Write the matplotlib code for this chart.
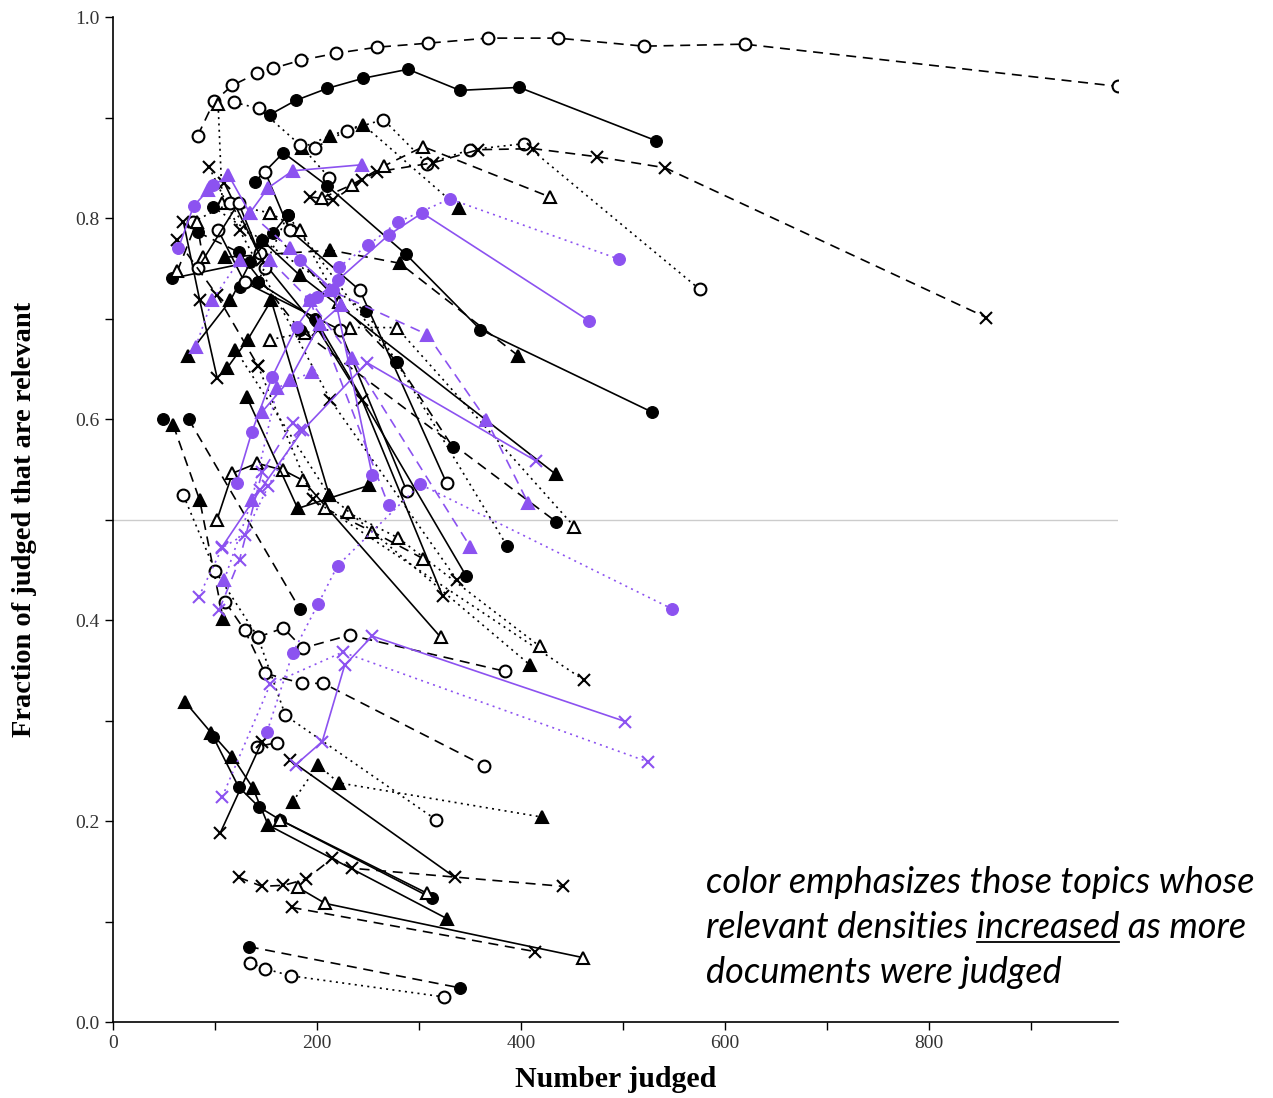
import matplotlib
matplotlib.use('Agg')
import matplotlib.pyplot as plt
from matplotlib.ticker import MultipleLocator

# ---- data: (number judged, fraction relevant) per topic ----
# black topics
b01_x = [83, 99, 117, 141, 157, 184, 219, 259, 309, 367, 436, 520, 619, 985]
b01_y = [0.882, 0.916, 0.932, 0.944, 0.949, 0.957, 0.964, 0.970, 0.974, 0.979, 0.979, 0.971, 0.973, 0.931]
b02_x = [154, 179, 210, 245, 289, 340, 398, 532]
b02_y = [0.903, 0.917, 0.929, 0.939, 0.948, 0.927, 0.930, 0.877]
b03_x = [185, 213, 245, 339]
b03_y = [0.870, 0.882, 0.893, 0.810]
b04_x = [198, 229, 265, 308, 350, 403, 575]
b04_y = [0.870, 0.887, 0.898, 0.854, 0.868, 0.874, 0.729]
b05_x = [193, 216, 244, 259, 314, 358, 412, 474, 541, 856]
b05_y = [0.821, 0.818, 0.838, 0.846, 0.855, 0.868, 0.869, 0.861, 0.850, 0.701]
b06_x = [205, 234, 266, 304, 428]
b06_y = [0.820, 0.833, 0.852, 0.871, 0.821]
b07_x = [119, 143, 183, 212]
b07_y = [0.915, 0.909, 0.873, 0.840]
b08_x = [103, 107, 154]
b08_y = [0.913, 0.815, 0.805]
b09_x = [139, 167, 210, 287, 360, 528]
b09_y = [0.836, 0.865, 0.832, 0.764, 0.689, 0.607]
b10_x = [110, 213, 281, 397]
b10_y = [0.761, 0.768, 0.755, 0.663]
b11_x = [73, 115, 146, 183, 434]
b11_y = [0.663, 0.718, 0.778, 0.743, 0.545]
b12_x = [154, 188, 232, 278, 452]
b12_y = [0.679, 0.686, 0.691, 0.691, 0.493]
b13_x = [83, 123, 183, 434]
b13_y = [0.786, 0.766, 0.689, 0.498]
b14_x = [98, 146, 248, 386]
b14_y = [0.811, 0.778, 0.707, 0.474]
b15_x = [157, 278, 333]
b15_y = [0.785, 0.657, 0.572]
b16_x = [124, 142, 198, 346]
b16_y = [0.731, 0.736, 0.700, 0.444]
b17_x = [102, 117, 141, 167, 186, 321]
b17_y = [0.500, 0.546, 0.556, 0.549, 0.539, 0.383]
b18_x = [109, 146, 201, 244, 323]
b18_y = [0.835, 0.758, 0.689, 0.619, 0.424]
b19_x = [94, 124, 213, 337]
b19_y = [0.851, 0.788, 0.619, 0.440]
b20_x = [149, 173, 242, 327]
b20_y = [0.846, 0.788, 0.728, 0.536]
b21_x = [103, 129, 222, 288]
b21_y = [0.788, 0.736, 0.689, 0.528]
b22_x = [230, 279, 418]
b22_y = [0.507, 0.482, 0.374]
b23_x = [208, 254, 304]
b23_y = [0.511, 0.488, 0.461]
b24_x = [120, 212, 409]
b24_y = [0.669, 0.524, 0.355]
b25_x = [142, 196, 462]
b25_y = [0.653, 0.520, 0.340]
b26_x = [142, 167, 186, 232, 384]
b26_y = [0.383, 0.392, 0.372, 0.385, 0.349]
b27_x = [131, 181, 251]
b27_y = [0.622, 0.511, 0.534]
b28_x = [74, 183]
b28_y = [0.600, 0.411]
b29_x = [59, 85, 108]
b29_y = [0.594, 0.519, 0.401]
b30_x = [69, 100, 142, 169, 317]
b30_y = [0.524, 0.449, 0.383, 0.305, 0.201]
b31_x = [49]
b31_y = [0.600]
b32_x = [110, 129, 149, 185, 206, 364]
b32_y = [0.418, 0.390, 0.347, 0.337, 0.337, 0.255]
b33_x = [141, 161]
b33_y = [0.274, 0.278]
b34_x = [176, 201, 221, 420]
b34_y = [0.219, 0.256, 0.238, 0.204]
b35_x = [71, 96, 117, 137, 152, 327]
b35_y = [0.318, 0.288, 0.264, 0.233, 0.196, 0.103]
b36_x = [98, 123, 143, 164, 313]
b36_y = [0.284, 0.234, 0.214, 0.201, 0.123]
b37_x = [105, 146]
b37_y = [0.188, 0.279]
b38_x = [173, 335]
b38_y = [0.261, 0.144]
b39_x = [123, 146, 167, 189, 215, 234, 441]
b39_y = [0.144, 0.135, 0.136, 0.142, 0.163, 0.153, 0.135]
b40_x = [181, 208, 461]
b40_y = [0.134, 0.118, 0.064]
b41_x = [175, 414]
b41_y = [0.114, 0.070]
b42_x = [164, 308]
b42_y = [0.201, 0.128]
b43_x = [133, 340]
b43_y = [0.075, 0.034]
b44_x = [134, 149, 174, 324]
b44_y = [0.059, 0.053, 0.046, 0.025]
b45_x = [69, 85, 102]
b45_y = [0.796, 0.718, 0.641]
b46_x = [78, 115, 144]
b46_y = [0.796, 0.815, 0.765]
b47_x = [58, 134, 171]
b47_y = [0.740, 0.756, 0.803]
b48_x = [63, 82, 88]
b48_y = [0.747, 0.796, 0.761]
b49_x = [83, 123, 149]
b49_y = [0.750, 0.815, 0.750]
b50_x = [63, 102, 142]
b50_y = [0.778, 0.723, 0.653]
b51_x = [112, 132, 155, 212]
b51_y = [0.651, 0.679, 0.718, 0.524]
b52_x = [142, 171, 277]
b52_y = [0.736, 0.803, 0.657]
b53_x = [154, 183, 221]
b53_y = [0.805, 0.788, 0.716]

# purple topics (relevant density increased)
p01_x = [93, 113, 134, 152, 176, 244]
p01_y = [0.828, 0.843, 0.805, 0.830, 0.847, 0.853]
p02_x = [151, 176, 201, 220, 301, 548]
p02_y = [0.289, 0.367, 0.416, 0.454, 0.535, 0.411]
p03_x = [121, 136, 156, 180, 200, 220, 270, 303, 466]
p03_y = [0.536, 0.587, 0.642, 0.692, 0.721, 0.738, 0.783, 0.805, 0.698]
p04_x = [221, 250, 279, 330, 496]
p04_y = [0.751, 0.773, 0.796, 0.819, 0.759]
p05_x = [179, 205, 227, 254, 502]
p05_y = [0.256, 0.279, 0.355, 0.384, 0.299]
p06_x = [107, 154, 225, 524]
p06_y = [0.224, 0.336, 0.368, 0.259]
p07_x = [107, 144, 186, 249, 415]
p07_y = [0.473, 0.529, 0.589, 0.656, 0.558]
p08_x = [134, 173, 213, 308, 366, 407]
p08_y = [0.805, 0.770, 0.728, 0.684, 0.599, 0.516]
p09_x = [154, 193, 234, 350]
p09_y = [0.758, 0.718, 0.661, 0.473]
p10_x = [81, 97, 124]
p10_y = [0.672, 0.718, 0.758]
p11_x = [84, 107, 129, 152, 183]
p11_y = [0.423, 0.472, 0.485, 0.533, 0.589]
p12_x = [104, 124, 146, 176]
p12_y = [0.410, 0.460, 0.547, 0.596]
p13_x = [183, 216, 254]
p13_y = [0.758, 0.728, 0.544]
p14_x = [193, 270]
p14_y = [0.718, 0.514]
p15_x = [109, 136, 161, 195]
p15_y = [0.440, 0.519, 0.631, 0.647]
p16_x = [146, 173, 203, 223]
p16_y = [0.607, 0.639, 0.695, 0.713]
p17_x = [64, 79, 98]
p17_y = [0.770, 0.812, 0.833]

BLACK = 'black'
PURPLE = '#8c52f0'

# marker kind: 'o' filled circle, 'oo' open circle, '^' filled triangle,
# '^o' open triangle, 'x' cross
series = [
    (b01_x, b01_y, 'oo', '--', BLACK), (b02_x, b02_y, 'o', '-', BLACK),
    (b03_x, b03_y, '^', ':', BLACK), (b04_x, b04_y, 'oo', ':', BLACK),
    (b05_x, b05_y, 'x', '--', BLACK), (b06_x, b06_y, '^o', '--', BLACK),
    (b07_x, b07_y, 'oo', ':', BLACK), (b08_x, b08_y, '^o', ':', BLACK),
    (b09_x, b09_y, 'o', '-', BLACK), (b10_x, b10_y, '^', '--', BLACK),
    (b11_x, b11_y, '^', '-', BLACK), (b12_x, b12_y, '^o', ':', BLACK),
    (b13_x, b13_y, 'o', '--', BLACK), (b14_x, b14_y, 'o', ':', BLACK),
    (b15_x, b15_y, 'o', '--', BLACK), (b16_x, b16_y, 'o', '-', BLACK),
    (b17_x, b17_y, '^o', '-', BLACK), (b18_x, b18_y, 'x', '-', BLACK),
    (b19_x, b19_y, 'x', ':', BLACK), (b20_x, b20_y, 'oo', '-', BLACK),
    (b21_x, b21_y, 'oo', '-', BLACK), (b22_x, b22_y, '^o', ':', BLACK),
    (b23_x, b23_y, '^o', '--', BLACK), (b24_x, b24_y, '^', ':', BLACK),
    (b25_x, b25_y, 'x', ':', BLACK), (b26_x, b26_y, 'oo', '--', BLACK),
    (b27_x, b27_y, '^', '-', BLACK), (b28_x, b28_y, 'o', '--', BLACK),
    (b29_x, b29_y, '^', '--', BLACK), (b30_x, b30_y, 'oo', ':', BLACK),
    (b31_x, b31_y, 'o', '-', BLACK), (b32_x, b32_y, 'oo', '--', BLACK),
    (b33_x, b33_y, 'oo', '-', BLACK), (b34_x, b34_y, '^', ':', BLACK),
    (b35_x, b35_y, '^', '-', BLACK), (b36_x, b36_y, 'o', '-', BLACK),
    (b37_x, b37_y, 'x', '-', BLACK), (b38_x, b38_y, 'x', '-', BLACK),
    (b39_x, b39_y, 'x', '--', BLACK), (b40_x, b40_y, '^o', '-', BLACK),
    (b41_x, b41_y, 'x', '--', BLACK), (b42_x, b42_y, '^o', '-', BLACK),
    (b43_x, b43_y, 'o', '--', BLACK), (b44_x, b44_y, 'oo', ':', BLACK),
    (b45_x, b45_y, 'x', '-', BLACK), (b46_x, b46_y, 'oo', ':', BLACK),
    (b47_x, b47_y, 'o', '-', BLACK), (b48_x, b48_y, '^o', '--', BLACK),
    (b49_x, b49_y, 'oo', '-', BLACK), (b50_x, b50_y, 'x', '--', BLACK),
    (b51_x, b51_y, '^', '-', BLACK), (b52_x, b52_y, 'o', ':', BLACK),
    (b53_x, b53_y, '^o', ':', BLACK),
    (p01_x, p01_y, '^', '-', PURPLE), (p02_x, p02_y, 'o', ':', PURPLE),
    (p03_x, p03_y, 'o', '-', PURPLE), (p04_x, p04_y, 'o', ':', PURPLE),
    (p05_x, p05_y, 'x', '-', PURPLE), (p06_x, p06_y, 'x', ':', PURPLE),
    (p07_x, p07_y, 'x', '-', PURPLE), (p08_x, p08_y, '^', '--', PURPLE),
    (p09_x, p09_y, '^', '--', PURPLE), (p10_x, p10_y, '^', ':', PURPLE),
    (p11_x, p11_y, 'x', ':', PURPLE), (p12_x, p12_y, 'x', '--', PURPLE),
    (p13_x, p13_y, 'o', '-', PURPLE), (p14_x, p14_y, 'o', '--', PURPLE),
    (p15_x, p15_y, '^', ':', PURPLE), (p16_x, p16_y, '^', '-', PURPLE),
    (p17_x, p17_y, 'o', '-', PURPLE),
]

LINESTYLES = {'-': '-', '--': (0, (6, 4)), ':': (0, (1.2, 2.6))}

plt.rcParams['font.family'] = ['Liberation Serif', 'DejaVu Serif']

fig = plt.figure(figsize=(12.73, 10.98), dpi=100)
ax = fig.add_axes([0.0888, 0.0692, 0.7895, 0.9153])

ax.axhline(0.5, color='#cccccc', lw=1.0, zorder=0)

for xs, ys, kind, ls, col in series:
    marker = kind[0]
    open_m = len(kind) == 2
    ms = 8.5 if marker == 'o' else 9
    ax.plot(xs, ys, linestyle=LINESTYLES[ls], color=col, lw=1.2,
            marker=marker, markersize=ms,
            markerfacecolor='white' if open_m else col,
            markeredgecolor=col,
            markeredgewidth=1.5 if (marker != 'o' or open_m) else 0.8,
            zorder=3)

ax.set_xlim(0, 985)
ax.set_ylim(0, 1.0)
ax.xaxis.set_major_locator(MultipleLocator(200))
ax.xaxis.set_minor_locator(MultipleLocator(100))
ax.yaxis.set_major_locator(MultipleLocator(0.2))
ax.yaxis.set_minor_locator(MultipleLocator(0.1))
ax.xaxis.set_major_formatter(plt.FuncFormatter(lambda v, p: f"{int(v)}"))
ax.yaxis.set_major_formatter(plt.FuncFormatter(lambda v, p: f"{v:.1f}"))
ax.tick_params(which='both', direction='out', length=6, width=1, colors='black',
               labelsize=14, labelcolor='#333333')
for s in ['top', 'right']:
    ax.spines[s].set_visible(False)
for s in ['left', 'bottom']:
    ax.spines[s].set_linewidth(1.2)

ax.set_xlabel('Number judged', fontsize=21.5, fontweight='bold', labelpad=10)
ax.set_ylabel('Fraction of judged that are relevant', fontsize=20.5,
              fontweight='bold')
ax.yaxis.set_label_coords(-0.0756, 0.5)

# annotation with underlined word
note_kw = dict(fontsize=26, style='italic', family=['Lato', 'DejaVu Sans'],
               color='black', va='baseline', ha='left')
x0 = 706 / 1273
fig.text(x0, 1 - 893 / 1098, 'color emphasizes those topics whose', **note_kw)
fig.text(x0, 1 - 938 / 1098, 'relevant densities increased as more', **note_kw)
fig.text(x0, 1 - 983 / 1098, 'documents were judged', **note_kw)

fig.canvas.draw()
r = fig.canvas.get_renderer()
tmp_a = fig.text(x0, 1 - 938 / 1098, 'relevant densities increased', **note_kw)
tmp_b = fig.text(x0, 1 - 938 / 1098, 'increased', **note_kw)
end_px = tmp_a.get_window_extent(r).x1
w_px = tmp_b.get_window_extent(r).width
tmp_a.remove()
tmp_b.remove()
uy = 1 - 942 / 1098
fig.add_artist(plt.Line2D([(end_px - w_px) / fig.bbox.width, end_px / fig.bbox.width],
                          [uy, uy], transform=fig.transFigure, color='black', lw=1.3))

fig.savefig('out.png', dpi=100)
